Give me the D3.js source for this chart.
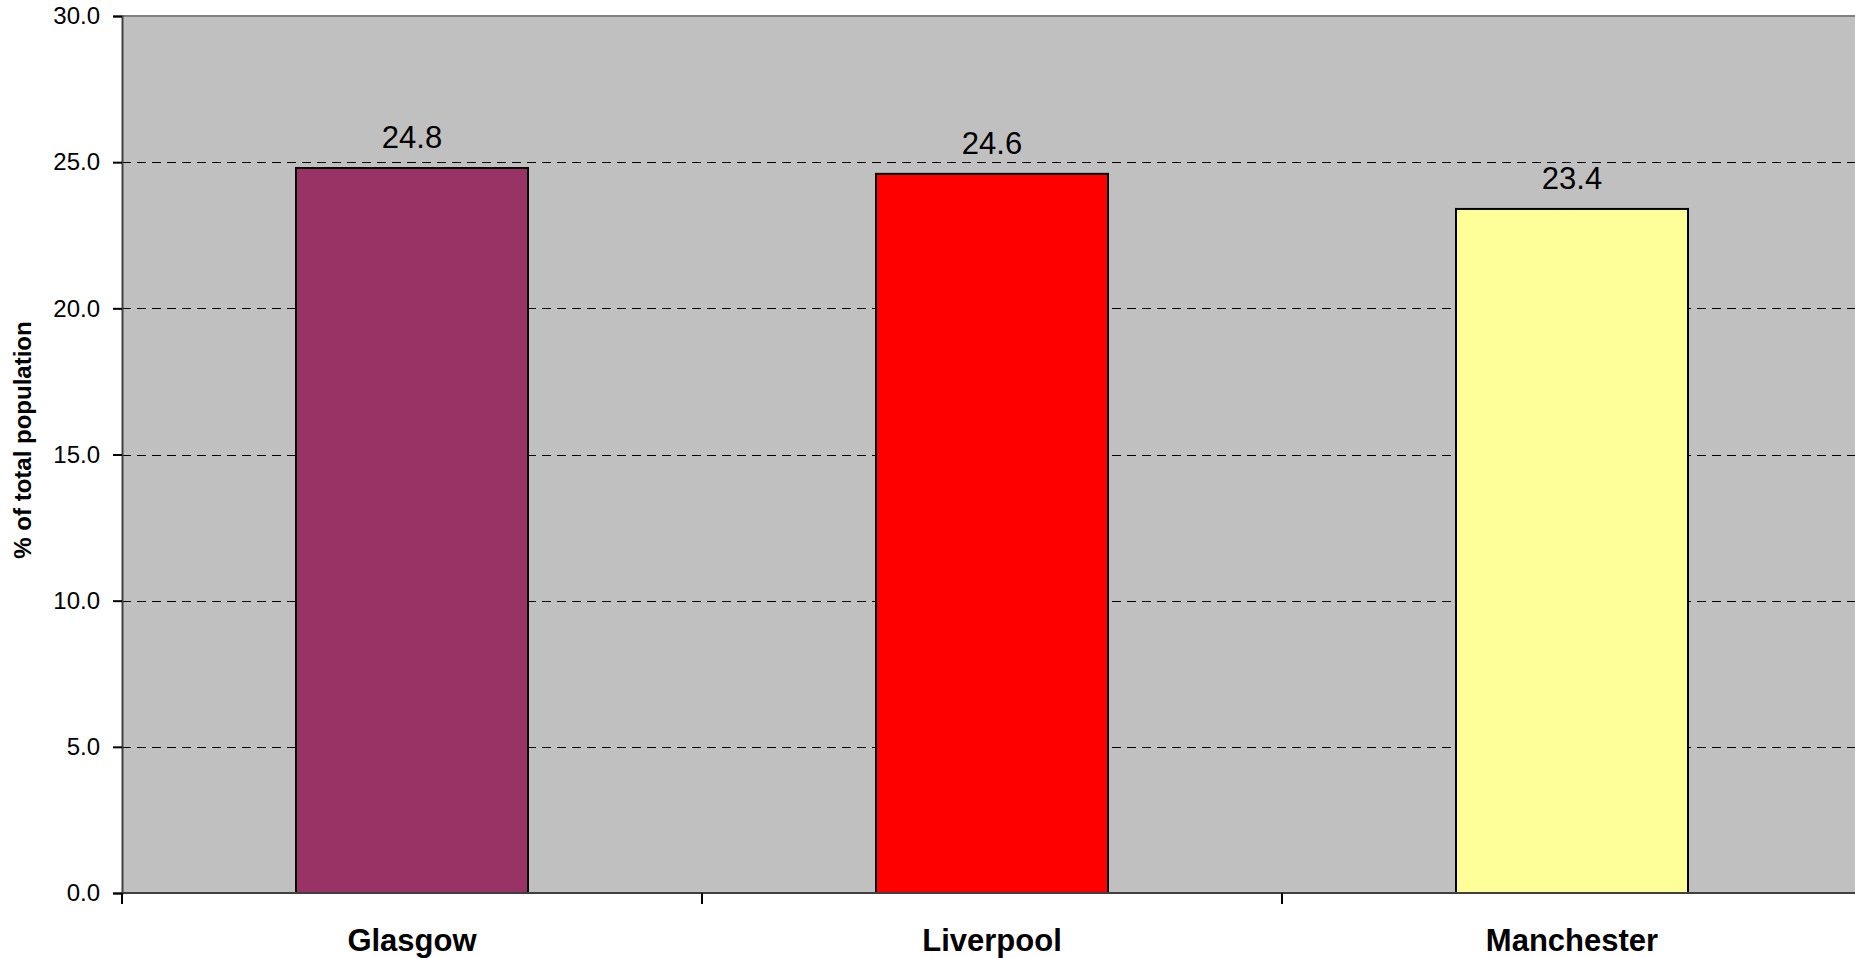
<!DOCTYPE html>
<html>
<head>
<meta charset="utf-8">
<script src="https://cdn.jsdelivr.net/npm/d3@7"></script>
<style>
  html, body { margin: 0; padding: 0; background: #ffffff; }
  svg { display: block; font-family: "Liberation Sans", Arial, sans-serif; }
</style>
</head>
<body>
<svg id="chart" width="1855" height="958"></svg>
<script>
// Share of total population by city
const cities = ["Glasgow", "Liverpool", "Manchester"];
const shares = [24.8, 24.6, 23.4];
const barColors = ["#993366", "#FF0000", "#FFFF99"];
const yTicks = [0, 5, 10, 15, 20, 25, 30];

const svg = d3.select("#chart");
const plot = { left: 122, right: 1862, top: 16, bottom: 893 };

const x = d3.scaleBand()
  .domain(cities)
  .range([plot.left, plot.right])
  .padding(0);

const y = d3.scaleLinear()
  .domain([0, 30])
  .range([plot.bottom, plot.top]);

const barWidth = x.bandwidth() * 0.4;

// plot background
svg.append("rect")
  .attr("x", plot.left)
  .attr("y", plot.top)
  .attr("width", plot.right - plot.left)
  .attr("height", plot.bottom - plot.top)
  .attr("fill", "#C0C0C0");

// top border of the plot area
svg.append("line")
  .attr("x1", plot.left).attr("x2", plot.right)
  .attr("y1", plot.top).attr("y2", plot.top)
  .attr("stroke", "#808080").attr("stroke-width", 2);

// dashed horizontal gridlines
svg.append("g")
  .selectAll("line")
  .data(yTicks.filter(t => t > 0 && t < 30))
  .join("line")
  .attr("x1", plot.left).attr("x2", plot.right)
  .attr("y1", d => Math.round(y(d)) + 0.5)
  .attr("y2", d => Math.round(y(d)) + 0.5)
  .attr("stroke", "#000000")
  .attr("stroke-width", 1)
  .attr("stroke-dasharray", "9,6");

// bars
svg.append("g")
  .selectAll("rect")
  .data(cities)
  .join("rect")
  .attr("x", d => x(d) + (x.bandwidth() - barWidth) / 2)
  .attr("y", (d, i) => y(shares[i]))
  .attr("width", barWidth)
  .attr("height", (d, i) => y(0) - y(shares[i]))
  .attr("fill", (d, i) => barColors[i])
  .attr("stroke", "#000000")
  .attr("stroke-width", 2);

// value labels above bars
svg.append("g")
  .selectAll("text")
  .data(cities)
  .join("text")
  .attr("x", d => x(d) + x.bandwidth() / 2)
  .attr("y", (d, i) => y(shares[i]) - 20)
  .attr("text-anchor", "middle")
  .attr("font-size", 31)
  .attr("fill", "#000000")
  .text((d, i) => shares[i].toFixed(1));

// y axis
const yAxis = d3.axisLeft(y)
  .tickValues(yTicks)
  .tickFormat(d3.format(".1f"))
  .tickSize(9)
  .tickPadding(13);

const gy = svg.append("g")
  .attr("transform", `translate(${plot.left},0)`)
  .call(yAxis);
gy.select(".domain").attr("stroke", "#404040").attr("stroke-width", 2);
gy.selectAll(".tick line").attr("stroke", "#000000").attr("stroke-width", 2);
gy.selectAll(".tick text")
  .attr("font-size", 24)
  .attr("font-family", "Liberation Sans, Arial, sans-serif")
  .attr("fill", "#000000");

// x axis: ticks on band boundaries
svg.append("line")
  .attr("x1", plot.left - 1).attr("x2", plot.right)
  .attr("y1", plot.bottom).attr("y2", plot.bottom)
  .attr("stroke", "#404040").attr("stroke-width", 2);

svg.append("g")
  .selectAll("line")
  .data(cities)
  .join("line")
  .attr("x1", d => x(d)).attr("x2", d => x(d))
  .attr("y1", plot.bottom).attr("y2", plot.bottom + 11)
  .attr("stroke", "#000000")
  .attr("stroke-width", 2);

svg.append("g")
  .selectAll("text")
  .data(cities)
  .join("text")
  .attr("x", d => x(d) + x.bandwidth() / 2)
  .attr("y", 951)
  .attr("text-anchor", "middle")
  .attr("font-size", 31)
  .attr("font-weight", "bold")
  .attr("fill", "#000000")
  .text(d => d);

// y axis title
svg.append("text")
  .attr("transform", "translate(31,440) rotate(-90)")
  .attr("text-anchor", "middle")
  .attr("font-size", 24)
  .attr("font-weight", "bold")
  .attr("fill", "#000000")
  .text("% of total population");
</script>
</body>
</html>
